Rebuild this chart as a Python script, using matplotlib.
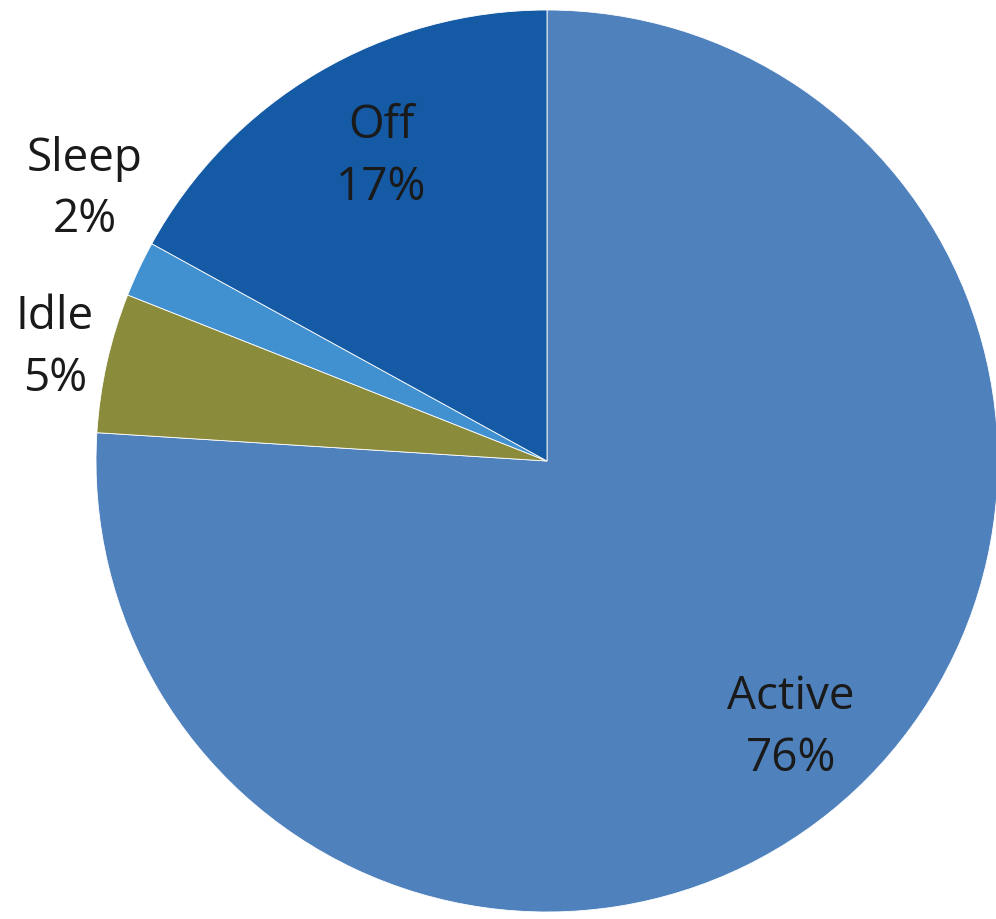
import numpy as np
import matplotlib
matplotlib.use("Agg")
import matplotlib.pyplot as plt

labels = ["Active", "Idle", "Sleep", "Off"]
values = [76, 5, 2, 17]
colors = ["#4F81BD", "#8B8B3C", "#4190D0", "#155AA5"]

W, H = 996, 920
fig = plt.figure(figsize=(W / 100, H / 100), dpi=100)
ax = fig.add_axes([0, 0, 1, 1])

cx, cy, R = 547, H - 462, 451
wedges, _ = ax.pie(values, colors=colors, startangle=90, counterclock=False,
                   center=(cx, cy), radius=R, frame=True,
                   wedgeprops=dict(edgecolor="white", linewidth=0.6))
ax.set_xlim(0, W)
ax.set_ylim(0, H)
ax.set_aspect("equal")
ax.axis("off")

# label placement (distance as fraction of radius, angle tweak in degrees)
dist = {"Active": 0.80, "Idle": 1.12, "Sleep": 1.19, "Off": 0.77}
dang = {"Active": -0.7, "Idle": -0.4, "Sleep": -5.3, "Off": -2.1}
for w, lab, v in zip(wedges, labels, values):
    mid = np.deg2rad((w.theta1 + w.theta2) / 2 + dang[lab])
    x = cx + dist[lab] * R * np.cos(mid)
    y = cy + dist[lab] * R * np.sin(mid)
    ax.text(x, y, f"{lab}\n{v}%", ha="center", va="center", fontsize=33,
            family="Open Sans", color="#1a1a1a", linespacing=1.45)

fig.savefig("out.png", dpi=100)
